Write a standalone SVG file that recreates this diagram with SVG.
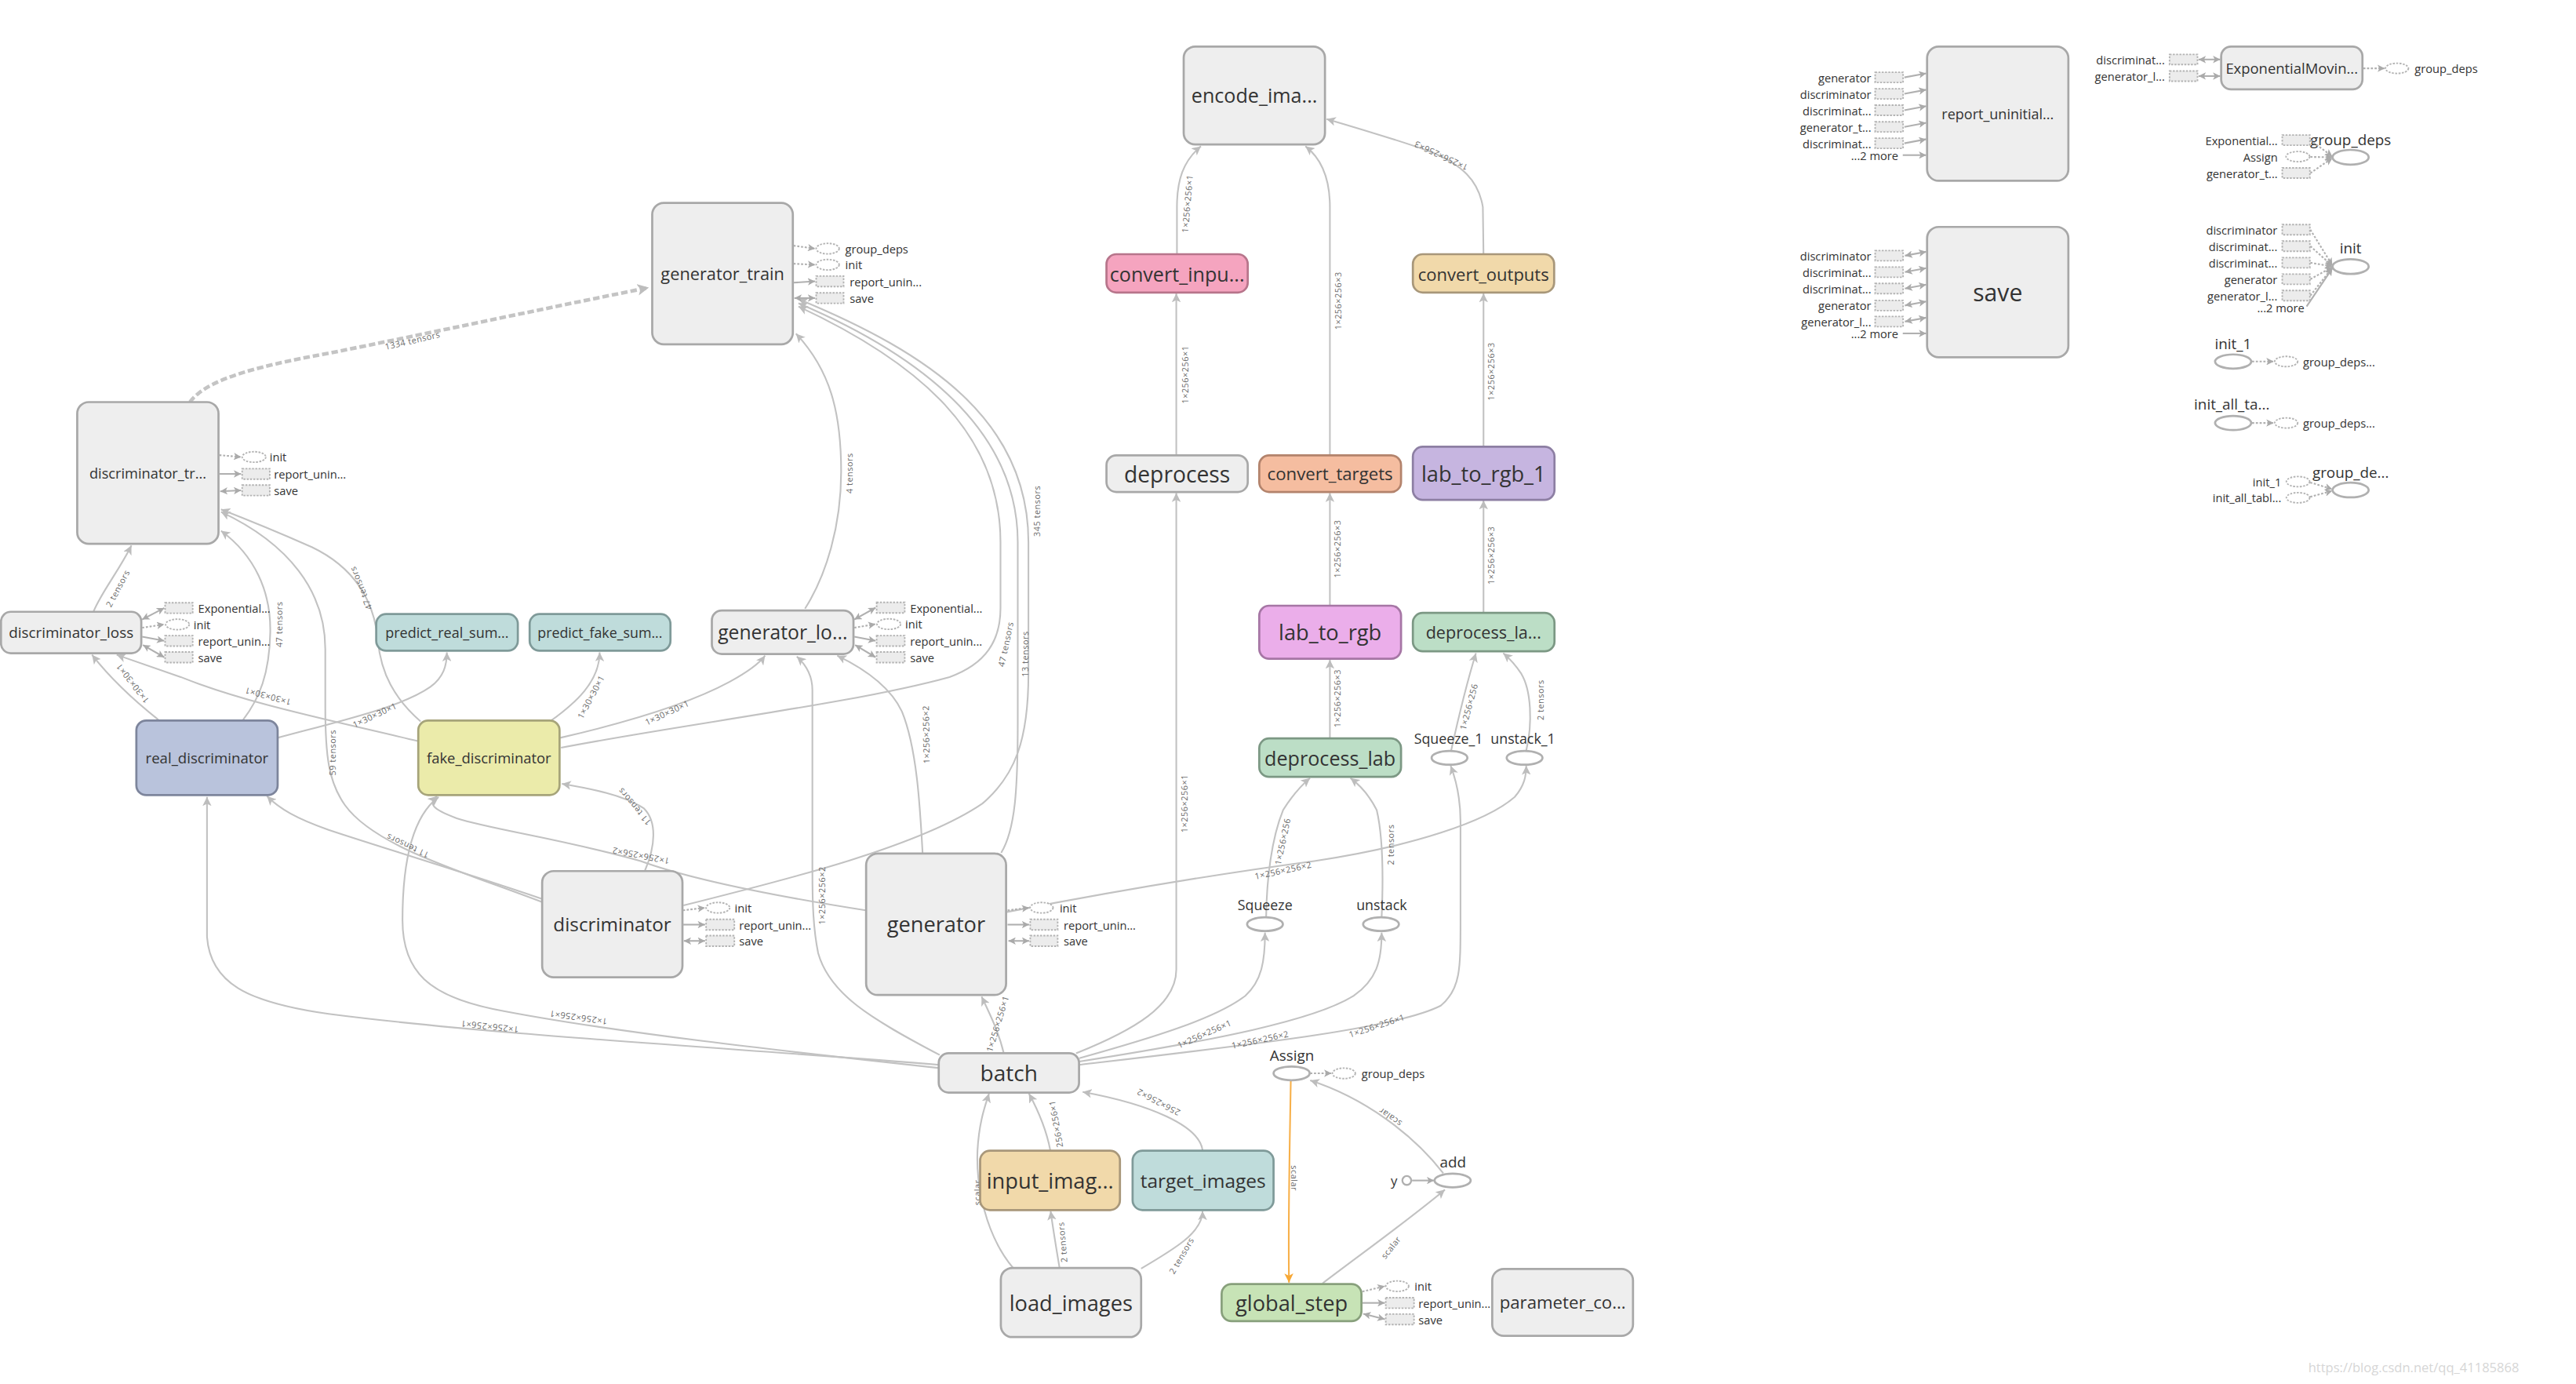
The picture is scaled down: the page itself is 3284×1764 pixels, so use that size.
<svg xmlns="http://www.w3.org/2000/svg" width="3284" height="1764" viewBox="0 0 3284 1764">
<defs>
<style>
text{font-family:'Open Sans','Noto Sans','DejaVu Sans',sans-serif;dominant-baseline:central}
.t{text-anchor:middle;fill:#333}
.sl{font-size:7px;fill:#333}
.sr{font-size:7px;fill:#333;text-anchor:end}
.el{font-size:5.2px;fill:#6a6a6a;text-anchor:middle;letter-spacing:0.25px}
.nd{fill:#eeeeee;stroke:#a8a8a8;stroke-width:1.3}
.op{fill:#ffffff;stroke:#b0b0b0;stroke-width:1.3}
.e{fill:none;stroke:#c2c2c2;stroke-width:1;marker-end:url(#ah)}
.st{fill:none;stroke:#b0b0b0;stroke-width:1;marker-end:url(#as)}
.sd{stroke-dasharray:1.3 1}
.db{marker-start:url(#as)}
.de{fill:#ffffff;stroke:#b4b4b4;stroke-width:0.9;stroke-dasharray:1.2 0.8}
.dr{fill:#ececec;stroke:#b4b4b4;stroke-width:0.9;stroke-dasharray:1.2 0.8}
</style>
<marker id="ah" viewBox="0 0 10 10" refX="10" refY="5" markerWidth="5.5" markerHeight="5.5" markerUnits="userSpaceOnUse" orient="auto-start-reverse"><path d="M0,0L10,5L0,10L2.5,5z" fill="#bdbdbd"/></marker>
<marker id="as" viewBox="0 0 10 10" refX="10" refY="5" markerWidth="4.5" markerHeight="4.5" markerUnits="userSpaceOnUse" orient="auto-start-reverse"><path d="M0,0L10,5L0,10L2.5,5z" fill="#aaaaaa"/></marker>
<marker id="ahb" viewBox="0 0 10 10" refX="10" refY="5" markerWidth="7" markerHeight="7" markerUnits="userSpaceOnUse" orient="auto"><path d="M0,0L10,5L0,10L2.5,5z" fill="#bdbdbd"/></marker>
<marker id="aho" viewBox="0 0 10 10" refX="10" refY="5" markerWidth="5.5" markerHeight="5.5" markerUnits="userSpaceOnUse" orient="auto"><path d="M0,0L10,5L0,10L2.5,5z" fill="#f7a836"/></marker>
</defs>
<rect x="0" y="0" width="3284" height="1764" fill="#ffffff"/>
<g transform="scale(2.0944)">

<g id="connectors">
<path class="e" d="M572,648 C450,638 300,630 200,617 C150,610 128,598 126,570 L126,485"/>
<path class="e" d="M572,650 C480,640 370,628 300,614 C262,606 245,592 245,560 C245,522 252,496 267,485"/>
<path class="e" d="M611,641 C608,628 602,616 597.5,606.5"/>
<path class="e" d="M655,641 C690,627 716,612 716,590 L716,300"/>
<path class="e" d="M657,644 C700,632 740,620 758,606 C768,597 770,585 770,567.5"/>
<path class="e" d="M657,646 C740,633 800,621 824,606 C838,596 841,585 841,567.5"/>
<path class="e" d="M657,648 C760,636 850,626 877,612 C889,602 889,590 889,560 L889,500 C889,484 886,474 883,466"/>
<path fill="none" stroke="#f7b04a" stroke-width="1" marker-end="url(#aho)" d="M785.7,657.5 C785,700 784,740 784.6,780.5"/>
<path class="e" d="M805,781 C830,762 858,742 879.5,724"/>
<path class="e" d="M878.5,714 C860,690 830,668 797.5,657.5"/>
<path class="st" d="M859.5,718.4 L873,718.4"/>
<path class="st sd" d="M797.5,653.2 L810.5,653.2"/>
<path class="e" d="M617,772 C600,752 594,722 595,700 C596,682 600,672 602,665.5"/>
<path class="e" d="M645,772 C643,760 641,748 639.5,737"/>
<path class="e" d="M694.6,772 C715,760 732,750 732,737"/>
<path class="e" d="M639.3,700 C637,688 632,676 626.3,665.5"/>
<path class="e" d="M732,700 C730,685 700,672 659,664.5"/>
<path class="e" d="M527,554 C470,545 420,535 390,524 C340,510 300,505 278,498 C262,492 261,489 266,484.5"/>
<path class="e" d="M561.6,519.5 C560,490 558,455 549,433 C541,416 522,405 509.6,399"/>
<path class="e" d="M609.4,519 C618,505 619.5,480 619.5,440 L619.5,330 C619.5,262 560,216 486,184.5"/>
<path class="e" d="M416,551 C480,535 560,515 598,489 C618,472 626,450 626,410 L626,330 C626,256 566,215 486,182"/>
<path class="e" d="M341.5,455 C420,440 520,428 578,412 C600,404 609,390 609,370 L609,330 C609,264 560,221 486,186.5"/>
<path class="e" d="M341,449 C380,440 420,428 444,415 C455,409 462,404 465.7,399"/>
<path class="e" d="M335.5,438.5 C350,428 365,415 365,397"/>
<path class="e" d="M169,449 C210,438 245,430 262,418 C270,412 272,405 272,397"/>
<path class="e" d="M96.4,438 C80,425 65,410 56,398.5"/>
<path class="e" d="M254.3,451 C200,438 150,428 110,412 C90,405 78,401 71,398.5"/>
<path class="e" d="M57,372 C62,360 72,348 80,332"/>
<path class="e" d="M148,438 C158,425 164,410 164.5,385 C165,360 155,338 134.5,323"/>
<path class="e" d="M330,549 C280,530 228,515 210,490 C200,476 198,460 198,430 L198,395 C198,360 176,331 134.5,311.5"/>
<path class="e" d="M330,547 C280,530 230,515 200,505 C180,498 170,492 162.5,484.5"/>
<path class="e" d="M256,439 C240,425 232,410 230,390 C228,365 215,345 190,333 C165,322 150,316 134.5,310"/>
<path class="e" d="M392.5,530 C399,515 400,500 392,492 C380,484 360,480 342,477"/>
<path fill="none" stroke="#c4c4c4" stroke-width="2.2" stroke-dasharray="4 1.8" marker-end="url(#ahb)" d="M115.6,244.7 C125,232 150,224 201,214.8 C260,203 330,188 395,175"/>
<path class="e" d="M490,370.4 C503,350 512,320 512,287 C512,250 505,225 484.5,203"/>
<path class="e" d="M613,555 C680,542 740,532 800,524 C860,515 905,500 922,485 C928,478 929,472 929,466"/>
<path class="e" d="M572,642 C530,620 505,605 498,580 C495,565 494.5,550 494.5,530 L494.5,420 C494.5,410 490,404 485,399.5"/>
<path class="e" d="M716,277 L716,178.5"/>
<path class="e" d="M716.4,155 L716.4,126 C716.4,110 720,98 731,89"/>
<path class="e" d="M809.5,277 L809.5,126 C809.5,110 805,97 794.6,89"/>
<path class="e" d="M903,155 L902.6,126 C900,110 890,100 870,92 C850,85 830,79 807.5,72.4"/>
<path class="e" d="M903,272 L903,178.5"/>
<path class="e" d="M809.5,369 L809.5,300"/>
<path class="e" d="M903,373 L903,304.5"/>
<path class="e" d="M809.5,449 L809.5,401.5"/>
<path class="e" d="M883.3,456.8 C887,440 893,415 898.4,397.5"/>
<path class="e" d="M929,456.8 C933,440 932,420 926,410 C922,404 918,400 915,397.5"/>
<path class="e" d="M770.7,558 C771,535 774,510 781,493 C786,485 792,478 797.4,473.5"/>
<path class="e" d="M841,558 C842,535 842,510 838,493 C834,485 828,478 822,473.5"/>

<text class="el" transform="translate(298,625) rotate(186)">1×256×256×1</text>
<text class="el" transform="translate(352,619.5) rotate(188)">1×256×256×1</text>
<text class="el" transform="translate(607,623) rotate(-73)">1×256×256×1</text>
<text class="el" transform="translate(720.5,489) rotate(-90)">1×256×256×1</text>
<text class="el" transform="translate(733,629) rotate(-24)">1×256×256×1</text>
<text class="el" transform="translate(767,632.5) rotate(-12)">1×256×256×2</text>
<text class="el" transform="translate(838,624) rotate(-18)">1×256×256×1</text>
<text class="el" transform="translate(788,717) rotate(90)">scalar</text>
<text class="el" transform="translate(846.5,759) rotate(-52)">scalar</text>
<text class="el" transform="translate(846,680) rotate(-145)">scalar</text>
<text class="el" transform="translate(594.5,725.7) rotate(-90)">scalar</text>
<text class="el" transform="translate(646.5,756) rotate(-95)">2 tensors</text>
<text class="el" transform="translate(719,764) rotate(-60)">2 tensors</text>
<text class="el" transform="translate(642.5,684) rotate(-100)">256×256×1</text>
<text class="el" transform="translate(705,671) rotate(-152)">256×256×2</text>
<text class="el" transform="translate(390,521) rotate(-169)">1×256×256×2</text>
<text class="el" transform="translate(563.5,447) rotate(-91)">1×256×256×2</text>
<text class="el" transform="translate(624,398) rotate(-90)">13 tensors</text>
<text class="el" transform="translate(631,311) rotate(-90)">345 tensors</text>
<text class="el" transform="translate(612,392) rotate(-78)">47 tensors</text>
<text class="el" transform="translate(406,433.5) rotate(-25)">1×30×30×1</text>
<text class="el" transform="translate(359.5,424) rotate(-62)">1×30×30×1</text>
<text class="el" transform="translate(228,435) rotate(-25)">1×30×30×1</text>
<text class="el" transform="translate(80.5,416) rotate(-128)">1×30×30×1</text>
<text class="el" transform="translate(163,424) rotate(-165)">1×30×30×1</text>
<text class="el" transform="translate(71.5,358) rotate(-62)">2 tensors</text>
<text class="el" transform="translate(169.5,380) rotate(-90)">47 tensors</text>
<text class="el" transform="translate(202,458) rotate(-90)">59 tensors</text>
<text class="el" transform="translate(248,515) rotate(-155)">11 tensors</text>
<text class="el" transform="translate(219.5,358) rotate(-112)">47 tensors</text>
<text class="el" transform="translate(386,491) rotate(-130)">11 tensors</text>
<text class="el" transform="translate(251,207) rotate(-13)">1334 tensors</text>
<text class="el" transform="translate(517,288) rotate(-90)">4 tensors</text>
<text class="el" transform="translate(781,529.5) rotate(-12)">1×256×256×2</text>
<text class="el" transform="translate(500,545) rotate(-90)">1×256×256×2</text>
<text class="el" transform="translate(721,228) rotate(-90)">1×256×256×1</text>
<text class="el" transform="translate(722.5,124) rotate(-85)">1×256×256×1</text>
<text class="el" transform="translate(814.4,183) rotate(-90)">1×256×256×3</text>
<text class="el" transform="translate(877,95) rotate(-155)">1×256×256×3</text>
<text class="el" transform="translate(907.5,226) rotate(-90)">1×256×256×3</text>
<text class="el" transform="translate(813.8,334) rotate(-90)">1×256×256×3</text>
<text class="el" transform="translate(907.5,338) rotate(-90)">1×256×256×3</text>
<text class="el" transform="translate(813.8,425) rotate(-90)">1×256×256×3</text>
<text class="el" transform="translate(893.8,430) rotate(-75)">1×256×256</text>
<text class="el" transform="translate(937.5,426) rotate(-90)">2 tensors</text>
<text class="el" transform="translate(780.5,512) rotate(-78)">1×256×256</text>
<text class="el" transform="translate(846.5,514) rotate(-90)">2 tensors</text>
</g>

<g id="encode_images"><rect class="nd" x="720.5" y="28.3" width="86" height="59.6" rx="7"/><text class="t" x="763.5" y="58" font-size="12">encode_ima...</text></g>
<g id="convert_inputs"><rect x="673.5" y="154.7" width="86" height="23.3" rx="6" fill="#f5a4bf" stroke="#b7758b" stroke-width="1.3"/><text class="t" x="716.5" y="166.5" font-size="12">convert_inpu...</text></g>
<g id="convert_outputs"><rect x="860" y="154.7" width="86" height="23.3" rx="6" fill="#f1d9aa" stroke="#a8977a" stroke-width="1.3"/><text class="t" x="903" y="166.5" font-size="10.5">convert_outputs</text></g>
<g id="deprocess"><rect class="nd" x="673.5" y="277.1" width="86" height="22.3" rx="6"/><text class="t" x="716.5" y="288.3" font-size="13.5">deprocess</text></g>
<g id="convert_targets"><rect x="766.5" y="277.1" width="86.3" height="22.3" rx="6" fill="#f5bda0" stroke="#b3836c" stroke-width="1.3"/><text class="t" x="809.6" y="288.3" font-size="10.6">convert_targets</text></g>
<g id="lab_to_rgb_1"><rect x="860" y="271.9" width="86.2" height="32.3" rx="6" fill="#c6b5e0" stroke="#8d7fa3" stroke-width="1.3"/><text class="t" x="903" y="288" font-size="13">lab_to_rgb_1</text></g>
<g id="lab_to_rgb"><rect x="766.5" y="368.6" width="86.3" height="32.3" rx="6" fill="#ebaeea" stroke="#a676a5" stroke-width="1.3"/><text class="t" x="809.6" y="384.8" font-size="13">lab_to_rgb</text></g>
<g id="deprocess_lab_1"><rect x="860" y="373" width="86.2" height="23.4" rx="6" fill="#bcdec6" stroke="#7c9884" stroke-width="1.3"/><text class="t" x="903" y="384.7" font-size="10.3">deprocess_la...</text></g>
<g id="deprocess_lab"><rect x="766.5" y="449.4" width="86.3" height="23.4" rx="6" fill="#bcdec6" stroke="#7c9884" stroke-width="1.3"/><text class="t" x="809.6" y="461.1" font-size="12">deprocess_lab</text></g>

<g id="Squeeze_1"><ellipse class="op" cx="882.3" cy="461.2" rx="10.9" ry="4.2"/><text class="t" x="881.7" y="449.5" font-size="8.5">Squeeze_1</text></g>
<g id="unstack_1"><ellipse class="op" cx="928" cy="461.2" rx="10.9" ry="4.2"/><text class="t" x="927" y="449.5" font-size="8.5">unstack_1</text></g>
<g id="Squeeze"><ellipse class="op" cx="770" cy="562.4" rx="10.9" ry="4.2"/><text class="t" x="770" y="550.7" font-size="8.5">Squeeze</text></g>
<g id="unstack"><ellipse class="op" cx="840.6" cy="562.4" rx="10.9" ry="4.2"/><text class="t" x="841" y="550.7" font-size="8.5">unstack</text></g>
<g id="Assign"><ellipse class="op" cx="786.2" cy="653.2" rx="11" ry="4.2"/><text class="t" x="786.4" y="642" font-size="9">Assign</text><ellipse class="de" cx="818" cy="653.2" rx="7" ry="3.2"/><text class="sl" x="828.8" y="653.2">group_deps</text></g>
<g id="add"><ellipse class="op" cx="884.2" cy="718.4" rx="11" ry="4.2"/><text class="t" x="884.4" y="707" font-size="9">add</text></g>
<g id="y"><circle cx="856.3" cy="718.4" r="2.7" fill="#ffffff" stroke="#b0b0b0" stroke-width="1.1"/><text class="t" x="848.5" y="718.4" font-size="8">y</text></g>

<g id="global_step"><rect x="743.6" y="781.4" width="85.1" height="22.6" rx="6" fill="#c7e3b6" stroke="#88a07c" stroke-width="1.3"/><text class="t" x="786.2" y="792.7" font-size="13">global_step</text>
<path class="st sd" d="M829.3,786 L843,782.7"/><ellipse class="de" cx="850.5" cy="782.7" rx="7" ry="3.2"/><text class="sl" x="861" y="782.7">init</text>
<path class="st" d="M829.3,792.9 L843,792.9"/><rect class="dr" x="843.5" y="789.7" width="17.2" height="6.4"/><text class="sl" x="863.4" y="792.9">report_unin...</text>
<path class="st db" d="M829.8,799.5 L843,802.9"/><rect class="dr" x="843.5" y="799.7" width="17.2" height="6.4"/><text class="sl" x="863.4" y="802.9">save</text></g>
<g id="parameter_count"><rect class="nd" x="908.3" y="772.2" width="85.7" height="40.7" rx="7"/><text class="t" x="951.2" y="792.5" font-size="10.6">parameter_co...</text></g>
<g id="load_images"><rect class="nd" x="609.2" y="771.6" width="85.4" height="42.1" rx="7"/><text class="t" x="651.9" y="792.6" font-size="13">load_images</text></g>
<g id="input_images"><rect x="596.6" y="700.3" width="85.1" height="36.1" rx="6" fill="#f1d9aa" stroke="#a8977a" stroke-width="1.3"/><text class="t" x="639.2" y="718.3" font-size="13">input_imag...</text></g>
<g id="target_images"><rect x="689.4" y="700.3" width="85.8" height="36.1" rx="6" fill="#bfdcdb" stroke="#7f9a99" stroke-width="1.3"/><text class="t" x="732.3" y="718.3" font-size="11.7">target_images</text></g>
<g id="batch"><rect class="nd" x="571.4" y="640.9" width="85.4" height="24" rx="6"/><text class="t" x="614.1" y="652.9" font-size="13.4">batch</text></g>

<g id="generator"><rect class="nd" x="527.2" y="519.4" width="85.2" height="86.1" rx="7"/><text class="t" x="569.8" y="562.3" font-size="13">generator</text>
<path class="st sd" d="M613.3,554 L626.5,552.4"/><ellipse class="de" cx="634" cy="552.4" rx="7" ry="3.2"/><text class="sl" x="645" y="552.4">init</text>
<path class="st" d="M613.3,562.7 L626.5,562.7"/><rect class="dr" x="627.1" y="559.5" width="16.7" height="6.4"/><text class="sl" x="647.5" y="562.7">report_unin...</text>
<path class="st db" d="M613.8,572.6 L626.5,572.6"/><rect class="dr" x="627.1" y="569.4" width="16.7" height="6.4"/><text class="sl" x="647.5" y="572.6">save</text></g>
<g id="discriminator"><rect class="nd" x="330" y="530.1" width="85.4" height="64.6" rx="7"/><text class="t" x="372.7" y="562.4" font-size="11.6">discriminator</text>
<path class="st sd" d="M415.7,554 L429.2,552.4"/><ellipse class="de" cx="437" cy="552.4" rx="7.2" ry="3.2"/><text class="sl" x="447.2" y="552.4">init</text>
<path class="st" d="M415.7,562.7 L429.2,562.7"/><rect class="dr" x="429.8" y="559.5" width="17.2" height="6.4"/><text class="sl" x="449.9" y="562.7">report_unin...</text>
<path class="st db" d="M416.2,572.6 L429.2,572.6"/><rect class="dr" x="429.8" y="569.4" width="17.2" height="6.4"/><text class="sl" x="449.9" y="572.6">save</text></g>

<g id="real_discriminator"><rect x="83" y="438.5" width="86" height="45.4" rx="6" fill="#b9c3dc" stroke="#7d859c" stroke-width="1.3"/><text class="t" x="126" y="461.2" font-size="8.9">real_discriminator</text></g>
<g id="fake_discriminator"><rect x="254.6" y="438.5" width="86" height="45.3" rx="6" fill="#ebebaa" stroke="#a6a47a" stroke-width="1.3"/><text class="t" x="297.6" y="461.2" font-size="8.8">fake_discriminator</text></g>
<g id="predict_real_summary"><rect x="229" y="373.7" width="86.2" height="22.3" rx="6" fill="#bfdcdb" stroke="#7f9a99" stroke-width="1.3"/><text class="t" x="272.1" y="384.9" font-size="8.6">predict_real_sum...</text></g>
<g id="predict_fake_summary"><rect x="322.4" y="373.7" width="85.7" height="22.3" rx="6" fill="#bfdcdb" stroke="#7f9a99" stroke-width="1.3"/><text class="t" x="365.2" y="384.9" font-size="8.5">predict_fake_sum...</text></g>

<g id="generator_loss"><rect class="nd" x="433.3" y="371.5" width="86.2" height="26.5" rx="6"/><text class="t" x="476.4" y="384.8" font-size="11.8">generator_lo...</text>
<path class="st db" d="M520,377 L533,369.8"/><rect class="dr" x="533.6" y="366.6" width="17.1" height="6.4"/><text class="sl" x="554" y="369.8">Exponential...</text>
<path class="st sd" d="M520,382 L533,379.8"/><ellipse class="de" cx="541" cy="379.8" rx="7.2" ry="3.2"/><text class="sl" x="551" y="379.8">init</text>
<path class="st" d="M520,387.5 L533,390"/><rect class="dr" x="533.6" y="386.8" width="17.1" height="6.4"/><text class="sl" x="554" y="390">report_unin...</text>
<path class="st db" d="M520.5,392.5 L533,400"/><rect class="dr" x="533.6" y="396.8" width="17.1" height="6.4"/><text class="sl" x="554" y="400">save</text></g>

<g id="discriminator_loss"><rect class="nd" x="0.6" y="372.3" width="85.4" height="25.2" rx="6"/><text class="t" x="43.3" y="384.9" font-size="9">discriminator_loss</text>
<path class="st db" d="M86.5,377 L100,370"/><rect class="dr" x="100.5" y="366.8" width="16.8" height="6.4"/><text class="sl" x="120.6" y="370">Exponential...</text>
<path class="st sd" d="M86.5,382 L100,380"/><ellipse class="de" cx="108" cy="380" rx="7.2" ry="3.2"/><text class="sl" x="117.8" y="380">init</text>
<path class="st" d="M86.5,387.5 L100,390"/><rect class="dr" x="100.5" y="386.8" width="16.8" height="6.4"/><text class="sl" x="120.6" y="390">report_unin...</text>
<path class="st db" d="M87,392.5 L100,400"/><rect class="dr" x="100.5" y="396.8" width="16.8" height="6.4"/><text class="sl" x="120.6" y="400">save</text></g>

<g id="discriminator_train"><rect class="nd" x="47" y="244.7" width="86" height="86.2" rx="7"/><text class="t" x="90" y="288" font-size="8.7">discriminator_tr...</text>
<path class="st sd" d="M133.5,277 L146.8,278.1"/><ellipse class="de" cx="154.6" cy="278.1" rx="7.2" ry="3.2"/><text class="sl" x="164.1" y="278.1">init</text>
<path class="st" d="M133.5,288.4 L146.8,288.4"/><rect class="dr" x="147.4" y="285.2" width="16.8" height="6.4"/><text class="sl" x="166.8" y="288.4">report_unin...</text>
<path class="st db" d="M134,299 L146.8,298.4"/><rect class="dr" x="147.4" y="295.2" width="16.8" height="6.4"/><text class="sl" x="166.8" y="298.4">save</text></g>

<g id="generator_train"><rect class="nd" x="397" y="123.5" width="85.6" height="86" rx="7"/><text class="t" x="439.8" y="166.5" font-size="10.4">generator_train</text>
<path class="st sd" d="M483,149.5 L496.2,151.3"/><ellipse class="de" cx="503.8" cy="151.3" rx="7" ry="3.2"/><text class="sl" x="514.5" y="151.3">group_deps</text>
<path class="st sd" d="M483,160.5 L496.2,161.1"/><ellipse class="de" cx="503.8" cy="161.1" rx="7" ry="3.2"/><text class="sl" x="514.5" y="161.1">init</text>
<path class="st" d="M483,172 L496.2,171.2"/><rect class="dr" x="496.8" y="168" width="16.7" height="6.4"/><text class="sl" x="517.2" y="171.2">report_unin...</text>
<path class="st db" d="M483.5,181.4 L496.2,181.4"/><rect class="dr" x="496.8" y="178.2" width="16.7" height="6.4"/><text class="sl" x="517.2" y="181.4">save</text></g>

<g id="report_uninitialized"><rect class="nd" x="1173" y="28.4" width="86" height="81.6" rx="7"/><text class="t" x="1216" y="69.2" font-size="8.6">report_uninitial...</text>
<text class="sr" x="1139" y="47.1">generator</text><rect class="dr" x="1141.4" y="44" width="17" height="6.2"/><path class="st" d="M1159.2,47.1 L1172.5,44.6"/>
<text class="sr" x="1139" y="57.1">discriminator</text><rect class="dr" x="1141.4" y="54" width="17" height="6.2"/><path class="st" d="M1159.2,57.1 L1172.5,54.6"/>
<text class="sr" x="1139" y="67.1">discriminat...</text><rect class="dr" x="1141.4" y="64" width="17" height="6.2"/><path class="st" d="M1159.2,67.1 L1172.5,64.6"/>
<text class="sr" x="1139" y="77.2">generator_t...</text><rect class="dr" x="1141.4" y="74.1" width="17" height="6.2"/><path class="st" d="M1159.2,77.2 L1172.5,74.7"/>
<text class="sr" x="1139" y="87.2">discriminat...</text><rect class="dr" x="1141.4" y="84.1" width="17" height="6.2"/><path class="st" d="M1159.2,87.2 L1172.5,84.7"/>
<text class="sr" x="1155.5" y="94.4">...2 more</text><path class="st" d="M1158.2,94.4 L1172.5,94.4"/></g>

<g id="save"><rect class="nd" x="1173" y="138.1" width="86" height="79.3" rx="7"/><text class="t" x="1216" y="177.8" font-size="14.4">save</text>
<text class="sr" x="1139" y="155.6">discriminator</text><rect class="dr" x="1141.4" y="152.5" width="17" height="6.2"/><path class="st db" d="M1159.5,155.6 L1172.5,153.2"/>
<text class="sr" x="1139" y="165.6">discriminat...</text><rect class="dr" x="1141.4" y="162.5" width="17" height="6.2"/><path class="st db" d="M1159.5,165.6 L1172.5,163.2"/>
<text class="sr" x="1139" y="175.6">discriminat...</text><rect class="dr" x="1141.4" y="172.5" width="17" height="6.2"/><path class="st db" d="M1159.5,175.6 L1172.5,173.2"/>
<text class="sr" x="1139" y="185.9">generator</text><rect class="dr" x="1141.4" y="182.8" width="17" height="6.2"/><path class="st db" d="M1159.5,185.9 L1172.5,183.5"/>
<text class="sr" x="1139" y="195.7">generator_l...</text><rect class="dr" x="1141.4" y="192.6" width="17" height="6.2"/><path class="st db" d="M1159.5,195.7 L1172.5,193.3"/>
<text class="sr" x="1155.5" y="202.9">...2 more</text><path class="st" d="M1158.2,202.9 L1172.5,202.9"/></g>

<g id="ExponentialMovingAverage"><rect class="nd" x="1352" y="28.3" width="86" height="26.1" rx="6"/><text class="t" x="1395" y="41.5" font-size="8.8">ExponentialMovin...</text>
<text class="sr" x="1317.7" y="36.2">discriminat...</text><rect class="dr" x="1320.6" y="33.1" width="17" height="6.2"/><path class="st db" d="M1338.2,36.2 L1351.5,36.2"/>
<text class="sr" x="1317.7" y="46.3">generator_l...</text><rect class="dr" x="1320.6" y="43.2" width="17" height="6.2"/><path class="st db" d="M1338.2,46.3 L1351.5,46.3"/>
<path class="st sd" d="M1438.5,41.6 L1451.7,41.6"/><ellipse class="de" cx="1459" cy="41.6" rx="7" ry="3.1"/><text class="sl" x="1469.8" y="41.6">group_deps</text></g>

<g id="group_deps"><ellipse class="op" cx="1430.8" cy="95.7" rx="11" ry="4.5"/><text class="t" x="1430.8" y="85" font-size="9">group_deps</text>
<text class="sr" x="1386.4" y="85.3">Exponential...</text><rect class="dr" x="1389.2" y="82.2" width="16.8" height="6.2"/><path class="st sd" d="M1406.3,85.3 L1419.7,95.2"/>
<text class="sr" x="1386.4" y="95.3">Assign</text><ellipse class="de" cx="1398.7" cy="95.3" rx="7.2" ry="3.1"/><path class="st sd" d="M1406.3,95.5 L1419.7,95.7"/>
<text class="sr" x="1386.4" y="105.3">generator_t...</text><rect class="dr" x="1389.2" y="102.2" width="16.8" height="6.2"/><path class="st sd" d="M1406.3,105.3 L1419.7,96.2"/></g>

<g id="init"><ellipse class="op" cx="1430.8" cy="162.2" rx="11" ry="4.5"/><text class="t" x="1430.8" y="151" font-size="9">init</text>
<text class="sr" x="1386.2" y="139.8">discriminator</text><rect class="dr" x="1389.2" y="136.7" width="16.8" height="6.2"/><path class="st sd" d="M1406.3,139.8 L1419.7,161.5"/>
<text class="sr" x="1386.2" y="149.8">discriminat...</text><rect class="dr" x="1389.2" y="146.7" width="16.8" height="6.2"/><path class="st sd" d="M1406.3,149.8 L1419.7,161.8"/>
<text class="sr" x="1386.2" y="159.9">discriminat...</text><rect class="dr" x="1389.2" y="156.8" width="16.8" height="6.2"/><path class="st sd" d="M1406.3,159.9 L1419.7,162.1"/>
<text class="sr" x="1386.2" y="169.9">generator</text><rect class="dr" x="1389.2" y="166.8" width="16.8" height="6.2"/><path class="st sd" d="M1406.3,169.9 L1419.7,162.5"/>
<text class="sr" x="1386.2" y="179.9">generator_l...</text><rect class="dr" x="1389.2" y="176.8" width="16.8" height="6.2"/><path class="st sd" d="M1406.3,179.9 L1419.7,162.8"/>
<text class="sr" x="1402.7" y="187.1">...2 more</text><path class="st" d="M1404,186.5 L1419.7,163.2"/></g>

<g id="init_1"><ellipse class="op" cx="1359.3" cy="220" rx="11" ry="4.3"/><text class="t" x="1359.3" y="209" font-size="9">init_1</text>
<path class="st sd" d="M1370.8,220 L1384,220"/><ellipse class="de" cx="1391.6" cy="220" rx="7" ry="3.1"/><text class="sl" x="1401.8" y="220">group_deps...</text></g>
<g id="init_all_tables"><ellipse class="op" cx="1359.3" cy="257.4" rx="11" ry="4.3"/><text class="t" x="1358.5" y="246" font-size="9">init_all_ta...</text>
<path class="st sd" d="M1370.8,257.4 L1384,257.4"/><ellipse class="de" cx="1391.6" cy="257.4" rx="7" ry="3.1"/><text class="sl" x="1401.8" y="257.4">group_deps...</text></g>
<g id="group_deps_1"><ellipse class="op" cx="1430.8" cy="298.2" rx="11" ry="4.5"/><text class="t" x="1430.8" y="287.3" font-size="9">group_de...</text>
<text class="sr" x="1388.6" y="293.1">init_1</text><ellipse class="de" cx="1398.8" cy="293.1" rx="7.1" ry="3.1"/><path class="st sd" d="M1406.2,293.6 L1419.7,297.7"/>
<text class="sr" x="1388.6" y="302.9">init_all_tabl...</text><ellipse class="de" cx="1398.8" cy="302.9" rx="7.1" ry="3.1"/><path class="st sd" d="M1406.2,302.4 L1419.7,298.7"/></g>

<text x="1405" y="835" font-family="'Liberation Mono',monospace" font-size="7.9" fill="#d6d6d6" style="dominant-baseline:auto">https://blog.csdn.net/qq_41185868</text>
</g>
</svg>
